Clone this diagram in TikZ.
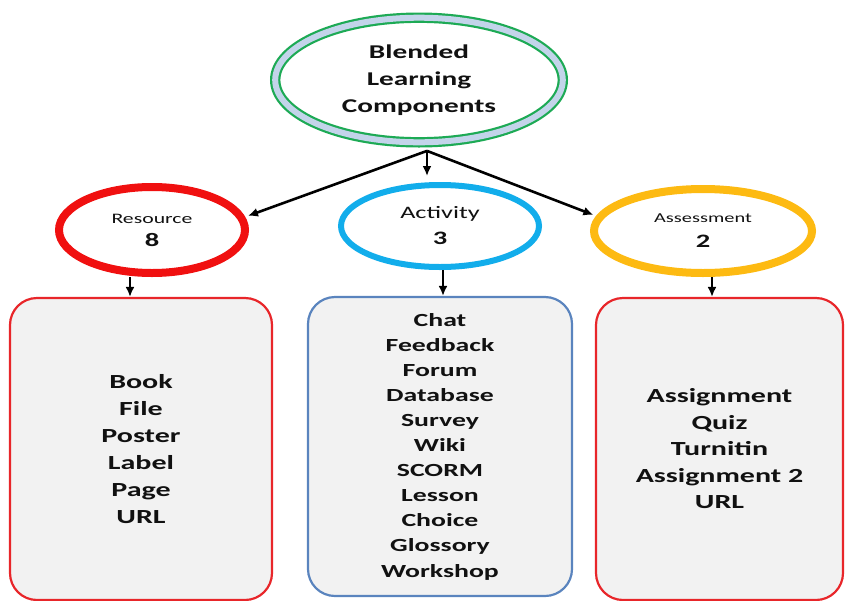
\documentclass[tikz,border=0pt]{standalone}
\usepackage{fontspec}
\setmainfont{Carlito}[FakeStretch=1.5]
\usetikzlibrary{shapes.geometric,arrows.meta}
\definecolor{ringgreen}{HTML}{1DAA55}
\definecolor{ringblue}{HTML}{C3D4EA}
\definecolor{resred}{HTML}{F01010}
\definecolor{actcyan}{HTML}{12ADEB}
\definecolor{asmgold}{HTML}{FDBA12}
\definecolor{boxred}{HTML}{E8262A}
\definecolor{boxblue}{HTML}{5A84BE}
\definecolor{boxfill}{HTML}{F2F2F2}
\definecolor{txt}{HTML}{111111}
\begin{document}
\begin{tikzpicture}[x=1pt,y=-1pt,
  oval/.style={ellipse,inner sep=0pt,align=center,text=txt},
  panel/.style={rectangle,rounded corners=27pt,fill=boxfill,line width=2.2pt,inner sep=0pt,align=center,text=txt},
  arr/.style={line width=2.6pt,-{Latex[length=10pt,width=9pt]}}]
\useasboundingbox (0,0) rectangle (845,600);
% top ellipse
\node[oval,draw=ringgreen,double=ringblue,double distance=6pt,line width=2.2pt,
  minimum width=287.6pt,minimum height=124.6pt,
  font=\fontsize{19.5}{27}\selectfont\bfseries] (top) at (419,80) {Blended\\Learning\\Components};
% category ellipses
\node[oval,draw=resred,line width=8pt,minimum width=186pt,minimum height=86pt,
  font=\fontsize{19}{23}\selectfont] (res) at (152,230)
  {{\fontsize{14.5}{23}\selectfont Resource}\\{\bfseries 8}};
\node[oval,draw=actcyan,line width=6pt,minimum width=198pt,minimum height=82pt,
  font=\fontsize{19}{26}\selectfont] (act) at (440,226)
  {{\fontsize{17.5}{26}\selectfont Activity}\\{\bfseries 3}};
\node[oval,draw=asmgold,line width=8pt,minimum width=218pt,minimum height=84pt,
  font=\fontsize{19}{25}\selectfont] (asm) at (703,231)
  {{\fontsize{13.6}{25}\selectfont Assessment}\\{\bfseries 2}};
% boxes
\node[panel,draw=boxred,minimum width=262pt,minimum height=302pt,
  font=\fontsize{20}{27}\selectfont\bfseries] (resbox) at (141,449)
  {Book\\File\\Poster\\Label\\Page\\URL};
\node[panel,draw=boxblue,minimum width=264pt,minimum height=299pt,
  font=\fontsize{18.5}{25.1}\selectfont\bfseries] (actbox) at (440,446.5)
  {Chat\\Feedback\\Forum\\Database\\Survey\\Wiki\\SCORM\\Lesson\\Choice\\Glossory\\Workshop};
\node[panel,draw=boxred,minimum width=247pt,minimum height=302pt,
  font=\fontsize{20}{26.5}\selectfont\bfseries] (asmbox) at (719.5,449)
  {Assignment\\Quiz\\Turnitin\\Assignment 2\\URL};
% connectors
\coordinate (hub) at ([xshift=8pt,yshift=-7.5pt]top.south);
\draw[arr,shorten >=3pt] (hub) -- (res.8);
\draw[arr,shorten >=6pt] (hub) -- (hub |- act.north);
\draw[arr,shorten >=3pt] (hub) -- (asm.172);
\draw[arr] ([xshift=-22pt]res.south) -- ([xshift=-11pt]resbox.north);
\draw[arr] ([xshift=3pt]act.south) -- ([xshift=3pt]actbox.north);
\draw[arr] ([xshift=9pt]asm.south) -- ([xshift=-7.5pt]asmbox.north);
\end{tikzpicture}
\end{document}
